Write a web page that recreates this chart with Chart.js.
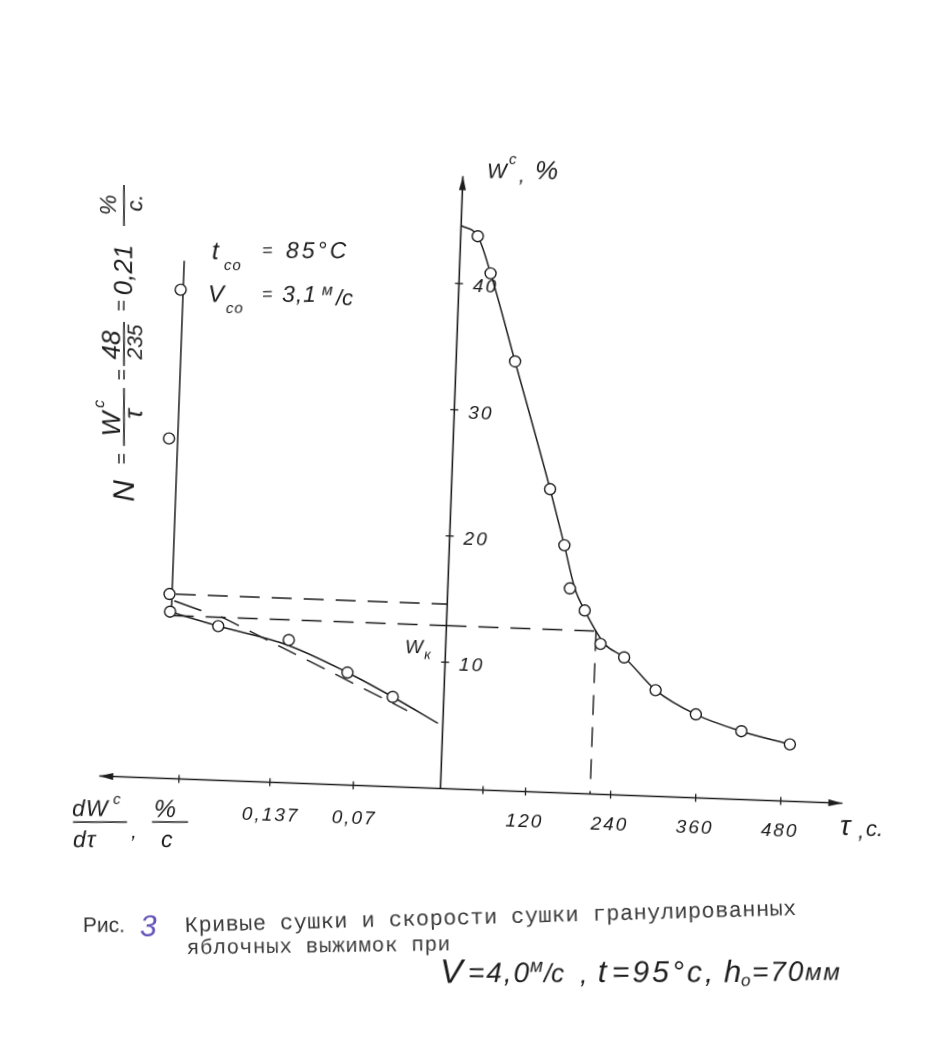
<!DOCTYPE html>
<html>
<head>
<meta charset="utf-8">
<title>Кривые сушки</title>
<script src="https://cdn.jsdelivr.net/npm/chart.js@4.4.1/dist/chart.umd.min.js"></script>
<style>
  html, body { margin: 0; padding: 0; background: #fff; overflow: hidden; }
  #wrap { position: relative; width: 927px; height: 1044px; }
  #chart { position: absolute; left: 0; top: 0; }
</style>
</head>
<body>
<div id="wrap"><canvas id="chart" width="927" height="1044"></canvas></div>
<script>
// drying curve W(τ), measured points
const timeS  = [24, 44, 83, 139, 162, 172, 194, 218, 252, 298, 356, 421, 490];
const moistW = [43.8, 40.9, 34.0, 24.0, 19.6, 16.2, 14.5, 11.9, 10.9, 8.4, 6.6, 5.4, 4.5];
// the hand drawn line through them
const curveTime  = [0, 24, 44, 83, 139, 162, 179, 194, 224, 252, 298, 356, 421, 490];
const curveMoist = [44.6, 43.8, 40.9, 34.0, 24.0, 19.6, 16.2, 14.5, 11.9, 10.9, 8.4, 6.6, 5.4, 4.5];

// drying rate dW/dτ (left half, plotted to the left)
const ratePts   = [0.223, 0.228, 0.223, 0.222, 0.183, 0.126, 0.078, 0.041];
const rateMoist = [38.7, 26.9, 14.6, 13.2, 12.2, 11.3, 8.9, 7.1];
const fallRate  = [0.222, 0.183, 0.127, 0.078, 0.041, 0.004];
const fallMoist = [13.2, 12.2, 10.9, 8.9, 7.1, 5.15];
const constRate = [0.221, 0.221];
const constMoist = [13.2, 41.0];
const tangentRate = [0.181, 0.029];
const tangentMoist = [12.95, 6.07];
const stubRate = [0.219, 0.197];
const stubMoist = [14.07, 13.37];
const upperMoist = 14.6;
const criticalMoist = 12.9;   // W_к
const criticalTime = 211;

// ticks
const timeTicks = [60, 120, 240, 360, 480];
const timeLabels = ['', '120', '240', '360', '480'];
const rateTicks = [0.07, 0.137, 0.21];
const rateLabels = ['0,07', '0,137', ''];
const moistTicks = [10, 20, 30, 40];
const moistLabels = ['10', '20', '30', '40'];
// axis ends (arrow tips)
const rateAxisEnd = 0.274, timeAxisEnd = 567, moistAxisEnd = 48.5;

const INK = '#1d1d1f';
const HAND = '"Liberation Sans", "DejaVu Sans", sans-serif';
const TYPE = '"Liberation Mono", "DejaVu Sans Mono", monospace';

// origin on the canvas and drawing scale of the sheet
const ORIGIN_X = 440, ORIGIN_Y = 792;
const PX_PER_S = 0.72, PX_PER_RATE = 1265, PX_PER_W = 12.8;
const W = 927, H = 1044;
// the scanned sheet sits a little clockwise
const SKEW_DEG = 2.1;
const SKEW = SKEW_DEG * Math.PI / 180;

const canvas = document.getElementById('chart');
canvas.style.transformOrigin = ORIGIN_X + 'px ' + ORIGIN_Y + 'px';
canvas.style.transform = 'rotate(' + SKEW_DEG + 'deg)';

const pts = (xs, ys) => xs.map((v, i) => ({ x: v, y: ys[i] }));

function lineDs(data, axis, extra) {
  return Object.assign({
    data, xAxisID: axis, yAxisID: 'y', showLine: true, pointRadius: 0,
    borderColor: INK, borderWidth: 1.5, fill: false
  }, extra || {});
}
function markDs(data, axis) {
  return {
    data, xAxisID: axis, yAxisID: 'y', showLine: false, pointRadius: 5.5,
    pointBorderWidth: 1.4, pointBorderColor: INK, pointBackgroundColor: '#fff'
  };
}
const DASH = { borderDash: [20, 12], borderWidth: 1.4 };

function seg(ctx, x1, y1, x2, y2) {
  ctx.beginPath(); ctx.moveTo(x1, y1); ctx.lineTo(x2, y2); ctx.stroke();
}
function arrow(ctx, x, y, dx, dy) {
  const len = 14, half = 3.5;
  ctx.beginPath();
  ctx.moveTo(x, y);
  ctx.lineTo(x - dx * len - dy * half, y - dy * len + dx * half);
  ctx.lineTo(x - dx * len + dy * half, y - dy * len - dx * half);
  ctx.closePath(); ctx.fill();
}
function hand(ctx, s, x, y, size, ls) {
  ctx.font = 'italic ' + size + 'px ' + HAND;
  ctx.letterSpacing = (ls || 0) + 'px';
  ctx.fillText(s, x, y);
  ctx.letterSpacing = '0px';
}
// text read from bottom to top, centred on yc, baseline at xb
function vhand(ctx, s, yc, xb, size) {
  ctx.save();
  ctx.rotate(-Math.PI / 2);
  ctx.textAlign = 'center';
  ctx.font = 'italic ' + size + 'px ' + HAND;
  ctx.fillText(s, -yc, xb);
  ctx.restore();
}
function typed(ctx, s, x, y, size, ls, deg) {
  ctx.save();
  ctx.translate(x, y); ctx.rotate(deg * Math.PI / 180);
  ctx.font = size + 'px ' + TYPE;
  ctx.letterSpacing = ls + 'px';
  ctx.fillText(s, 0, 0);
  ctx.restore();
}
// undo the sheet skew so text sits level on the page
function level(ctx) {
  ctx.translate(ORIGIN_X, ORIGIN_Y);
  ctx.rotate(-SKEW);
  ctx.translate(-ORIGIN_X, -ORIGIN_Y);
}

const sheet = {
  id: 'sheet',
  beforeDatasetsDraw(chart) {
    const { ctx, scales: { x, xRate, y } } = chart;
    const x0 = x.getPixelForValue(0), y0 = y.getPixelForValue(0);
    ctx.save();
    ctx.strokeStyle = INK; ctx.fillStyle = INK; ctx.lineWidth = 1.6;

    const left = xRate.getPixelForValue(rateAxisEnd);
    const right = x.getPixelForValue(timeAxisEnd);
    const top = y.getPixelForValue(moistAxisEnd);
    seg(ctx, left, y0, right, y0);
    arrow(ctx, left, y0, -1, 0);
    arrow(ctx, right, y0, 1, 0);
    seg(ctx, x0, y0, x0, top);
    arrow(ctx, x0, top, 0, -1);

    ctx.lineWidth = 1.3;
    timeTicks.forEach(t => { const px = x.getPixelForValue(t); seg(ctx, px, y0 - 4, px, y0 + 4); });
    rateTicks.forEach(v => { const px = xRate.getPixelForValue(v); seg(ctx, px, y0 - 4, px, y0 + 4); });
    moistTicks.forEach(v => { const py = y.getPixelForValue(v); seg(ctx, x0 - 4, py, x0 + 4, py); });
    ctx.restore();
  },
  afterDraw(chart) {
    const { ctx, scales: { x, xRate, y } } = chart;
    const x0 = x.getPixelForValue(0), y0 = y.getPixelForValue(0);
    ctx.save();
    ctx.fillStyle = INK; ctx.strokeStyle = INK;

    // tick labels follow the axes
    ctx.textBaseline = 'middle'; ctx.textAlign = 'center';
    timeTicks.forEach((t, i) => hand(ctx, timeLabels[i], x.getPixelForValue(t), y0 + 30, 19, 2));
    rateTicks.forEach((v, i) => hand(ctx, rateLabels[i], xRate.getPixelForValue(v) + 2, y0 + 33, 19, 2));
    ctx.textAlign = 'left';
    moistTicks.forEach((v, i) => hand(ctx, moistLabels[i], x0 + 14, y.getPixelForValue(v) + 3, 19, 2));

    // notes written level on the page
    level(ctx);
    ctx.textBaseline = 'alphabetic'; ctx.textAlign = 'left';

    // W^c, %
    hand(ctx, 'W', 487, 178, 21);
    hand(ctx, 'c', 509, 164, 15);
    hand(ctx, ',', 519, 182, 21);
    hand(ctx, '%', 535, 179, 26);

    // τ, c.
    hand(ctx, 'τ', 840, 835, 28);
    hand(ctx, ',', 858, 838, 22);
    hand(ctx, 'c.', 866, 836, 22);

    // dW^c/dτ , %/c
    ctx.lineWidth = 1.6;
    hand(ctx, 'dW', 72, 816, 23, 1);
    hand(ctx, 'c', 113, 804, 15);
    seg(ctx, 73, 822, 127, 822);
    hand(ctx, 'dτ', 73, 847, 23, 1);
    hand(ctx, ',', 131, 838, 21);
    hand(ctx, '%', 154, 817, 25);
    seg(ctx, 152, 822, 188, 822);
    hand(ctx, 'c', 161, 847, 23);

    // W_к at the critical moisture
    hand(ctx, 'W', 405, 653, 19);
    hand(ctx, 'к', 424, 659, 14);

    // air temperature and speed
    hand(ctx, 't', 212, 259, 25);
    hand(ctx, 'co', 224, 270, 15, 1);
    hand(ctx, '=', 262, 256, 18);
    hand(ctx, '85°C', 286, 258, 23, 3);
    hand(ctx, 'V', 208, 302, 24);
    hand(ctx, 'co', 226, 313, 15, 1);
    hand(ctx, '=', 262, 300, 18);
    hand(ctx, '3,1', 282, 302, 23, 1);
    hand(ctx, 'м', 322, 295, 16);
    hand(ctx, '/c', 336, 305, 22);

    // N = W^c/τ = 48/235 = 0,21 %/c, written upward
    vhand(ctx, 'N', 491, 134, 30);
    vhand(ctx, '=', 459, 128, 20);
    vhand(ctx, 'W', 424, 120, 26);
    vhand(ctx, 'c', 404, 104, 16);
    seg(ctx, 124, 388, 124, 446);
    vhand(ctx, 'τ', 414, 142, 26);
    vhand(ctx, '=', 375, 128, 20);
    vhand(ctx, '48', 345, 120, 26);
    seg(ctx, 124, 322, 124, 366);
    vhand(ctx, '235', 342, 142, 21);
    vhand(ctx, '=', 306, 128, 20);
    vhand(ctx, '0,21', 270, 132, 26);
    vhand(ctx, '%', 205, 116, 23);
    seg(ctx, 124, 185, 124, 226);
    vhand(ctx, 'c.', 203, 142, 22);

    // caption
    ctx.fillStyle = '#333';
    ctx.font = '21px ' + HAND;
    ctx.fillText('Рис.', 83, 932);
    ctx.fillStyle = '#6352b8';
    hand(ctx, '3', 140, 936, 30);
    ctx.fillStyle = '#3a3a3a';
    typed(ctx, 'Кривые сушки и скорости сушки гранулированных', 185, 932, 22, 0.4, -1.6);
    typed(ctx, 'яблочных выжимок при', 187, 954, 21, 0.6, -0.8);
    ctx.fillStyle = INK;
    hand(ctx, 'V', 440, 983, 34);
    hand(ctx, '=4,0', 468, 982, 28, 2);
    hand(ctx, 'м', 530, 972, 19);
    hand(ctx, '/c', 544, 982, 26);
    hand(ctx, ',', 580, 983, 27);
    hand(ctx, 't', 598, 982, 31);
    hand(ctx, '=95°c,', 612, 982, 30, 3);
    hand(ctx, 'h', 724, 982, 31);
    hand(ctx, 'o', 741, 986, 17);
    hand(ctx, '=70', 752, 981, 28, 2);
    hand(ctx, 'мм', 805, 980, 24, 2);
    ctx.restore();
  }
};

new Chart(canvas, {
  type: 'scatter',
  data: {
    datasets: [
      markDs(pts(timeS, moistW), 'x'),
      markDs(pts(ratePts, rateMoist), 'xRate'),
      lineDs(pts(curveTime, curveMoist), 'x', { cubicInterpolationMode: 'monotone' }),
      lineDs(pts(fallRate, fallMoist), 'xRate', { cubicInterpolationMode: 'monotone' }),
      lineDs(pts(constRate, constMoist), 'xRate'),
      lineDs(pts(stubRate, stubMoist), 'xRate'),
      lineDs(pts(tangentRate, tangentMoist), 'xRate', DASH),
      lineDs(pts([constRate[0] - 0.003, 0], [upperMoist, upperMoist]), 'xRate', DASH),
      lineDs(pts([constRate[0] - 0.002, 0], [criticalMoist, criticalMoist]), 'xRate', DASH),
      lineDs(pts([0, criticalTime], [criticalMoist, criticalMoist]), 'x', DASH),
      lineDs(pts([criticalTime, criticalTime], [criticalMoist, 0]), 'x', DASH)
    ]
  },
  options: {
    responsive: false,
    animation: false,
    layout: { padding: 0 },
    plugins: { legend: { display: false }, tooltip: { enabled: false } },
    scales: {
      x: { type: 'linear', display: false, min: -ORIGIN_X / PX_PER_S, max: (W - ORIGIN_X) / PX_PER_S },
      xRate: { type: 'linear', axis: 'x', display: false, reverse: true,
               min: -(W - ORIGIN_X) / PX_PER_RATE, max: ORIGIN_X / PX_PER_RATE },
      y: { type: 'linear', display: false, min: -(H - ORIGIN_Y) / PX_PER_W, max: ORIGIN_Y / PX_PER_W }
    }
  },
  plugins: [sheet]
});
</script>
</body>
</html>
